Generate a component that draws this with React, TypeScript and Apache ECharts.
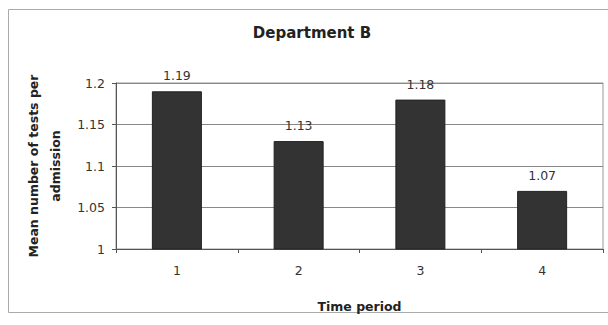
import React, { useEffect, useRef } from "react";
import * as echarts from "echarts";

const categories = ["1", "2", "3", "4"];
const values = [1.19, 1.13, 1.18, 1.07];
const yMin = 1;
const yMax = 1.2;
const yStep = 0.05;
const chartTitle = "Department B";
const xName = "Time period";
const yName = "Mean number of tests per\nadmission";

export default function App() {
  const ref = useRef<HTMLDivElement>(null);
  useEffect(() => {
    if (!ref.current) return;
    const chart = echarts.init(ref.current, undefined, { renderer: "svg" });
    const font = "'DejaVu Sans', sans-serif";
    chart.setOption({
      animation: false,
      backgroundColor: "#ffffff",
      textStyle: { fontFamily: font },
      title: {
        text: chartTitle,
        left: 312,
        textAlign: "center",
        top: 25,
        padding: 0,
        textStyle: { fontSize: 15, fontWeight: "bold", color: "#222", fontFamily: font },
      },
      graphic: [
        {
          type: "rect",
          shape: { x: 8.5, y: 9.5, width: 640, height: 303 },
          style: { fill: "none", stroke: "#aaa", lineWidth: 1 },
          silent: true,
        },
      ],
      grid: {
        left: 116,
        right: 5,
        top: 83,
        bottom: 76,
        show: true,
        borderColor: "#999",
        borderWidth: 1,
        backgroundColor: "transparent",
      },
      xAxis: {
        type: "category",
        data: categories,
        name: xName,
        nameLocation: "middle",
        nameGap: 51,
        nameTextStyle: { fontSize: 12.5, fontWeight: "bold", color: "#222", fontFamily: font },
        axisLine: { lineStyle: { color: "#555", width: 1 } },
        axisTick: { show: true, length: 4, alignWithLabel: false, lineStyle: { color: "#555" } },
        axisLabel: { fontSize: 12.5, color: "#333", margin: 15, fontFamily: font },
      },
      yAxis: {
        type: "value",
        min: yMin,
        max: yMax,
        interval: yStep,
        name: yName,
        nameLocation: "middle",
        nameRotate: 90,
        nameGap: 50,
        nameTextStyle: { fontSize: 12.5, fontWeight: "bold", color: "#222", lineHeight: 22, fontFamily: font },
        axisLine: { show: true, lineStyle: { color: "#555", width: 1 } },
        axisTick: { show: true, length: 4, inside: false, lineStyle: { color: "#555" } },
        axisLabel: { fontSize: 12.5, color: "#333", margin: 11, fontFamily: font },
        splitLine: { show: true, lineStyle: { color: "#888", width: 1 } },
      },
      series: [
        {
          type: "bar",
          data: values,
          barWidth: 50,
          itemStyle: { color: "#333333", borderColor: "#222", borderWidth: 1 },
          label: {
            show: true,
            position: "top",
            distance: 9,
            fontSize: 12.5,
            color: "#333",
            fontFamily: font,
            formatter: (p: any) => p.value.toFixed(2),
          },
        },
      ],
    });
    return () => chart.dispose();
  }, []);
  return (
    <div
      ref={ref}
      style={{ position: "fixed", left: 0, top: 0, width: 608, height: 325 }}
    />
  );
}
